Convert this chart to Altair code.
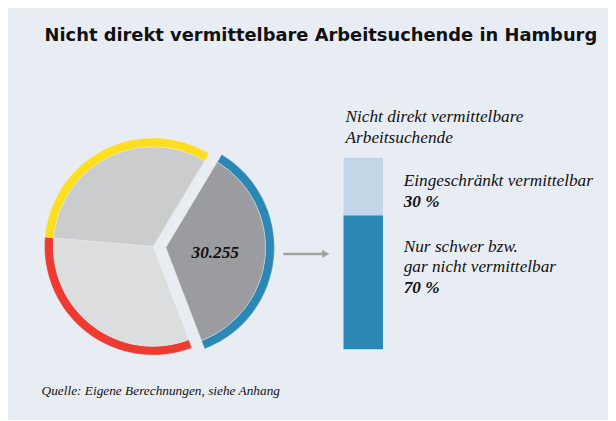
import math
import altair as alt
import pandas as pd

# ---------------- data ----------------
pie_categories = ["Nicht direkt vermittelbar", "Gruppe rot", "Gruppe gelb"]
pie_values = [30255, 27400, 27400]
pie_order = [0, 1, 2]
pie_label = "30.255"

bar_categories = ["Nur schwer bzw. gar nicht vermittelbar", "Eingeschränkt vermittelbar"]
bar_values = [70, 30]
bar_order = [0, 1]

title_text = "Nicht direkt vermittelbare Arbeitsuchende in Hamburg"
bar_title = ["Nicht direkt vermittelbare", "Arbeitsuchende"]
label_top = ["Eingeschränkt vermittelbar", "30 %"]
label_bottom = ["Nur schwer bzw.", "gar nicht vermittelbar", "70 %"]
source_text = "Quelle: Eigene Berechnungen, siehe Anhang"

# ---------------- styles ----------------
BG = "#e8edf4"
ring_colors = ["#2b88b5", "#ee3b32", "#fedf1f"]
gray_colors = ["#9b9ca0", "#dcddde", "#cbcccd"]
bar_colors = ["#2b88b5", "#c3d6e7"]
SERIF = "Liberation Serif"
SANS = "DejaVu Sans"

pie_df = pd.DataFrame({"cat": pie_categories, "value": pie_values, "ord": pie_order})
bar_df = pd.DataFrame({"cat": bar_categories, "share": bar_values, "ord": bar_order})

start = math.radians(31)
theta = alt.Theta("value:Q", stack=True, scale=alt.Scale(range=[start, start + 2 * math.pi]))
order = alt.Order("ord:Q")

CX, CY = 147, 239
R_OUT, R_IN = 110, 101
EX, EY = 13, 1


def pie_layer(radius, radius2, colors, cx, cy, show_exploded):
    cond = alt.datum.ord == 0 if show_exploded else alt.datum.ord != 0
    enc = dict(
        theta=theta,
        order=order,
        color=alt.Color("cat:N", scale=alt.Scale(domain=pie_categories, range=colors), legend=None),
        opacity=alt.condition(cond, alt.value(1), alt.value(0)),
        x=alt.value(cx),
        y=alt.value(cy),
    )
    m = dict(radius=radius)
    if radius2 is not None:
        m["radius2"] = radius2
    return alt.Chart(pie_df).mark_arc(**m, stroke="#ececec", strokeWidth=0.4).encode(**enc)


pie_layers = [
    pie_layer(R_OUT, R_IN, ring_colors, CX, CY, False),
    pie_layer(R_IN, None, gray_colors, CX, CY, False),
    pie_layer(R_OUT, R_IN, ring_colors, CX + EX, CY + EY, True),
    pie_layer(R_IN, None, gray_colors, CX + EX, CY + EY, True),
]

bar = alt.Chart(bar_df).transform_window(
    end="sum(share)", sort=[alt.SortField("ord")], frame=[None, 0]
).transform_calculate(
    begin="datum.end - datum.share"
).mark_bar().encode(
    x=alt.value(340),
    x2=alt.value(380),
    y=alt.Y("begin:Q", scale=alt.Scale(domain=[0, 100], range=[343, 149]), axis=None),
    y2="end:Q",
    color=alt.Color("cat:N", scale=alt.Scale(domain=bar_categories, range=bar_colors), legend=None),
)


def txt(t, x, y, size, font=SERIF, style="italic", weight="normal", align="left"):
    return alt.Chart(pd.DataFrame({"t": [t]})).mark_text(
        font=font, fontSize=size, fontStyle=style, fontWeight=weight,
        align=align, baseline="alphabetic", color="#111111",
    ).encode(x=alt.value(x), y=alt.value(y), text="t:N")


FS = 17.5
texts = [
    txt(title_text, 37, 31, 18.1, font=SANS, style="normal", weight="bold"),
    txt(bar_title[0], 342, 113, FS),
    txt(bar_title[1], 342, 134, FS),
    txt(label_top[0], 401, 178, FS),
    txt(label_top[1], 401, 199, FS, weight="bold"),
    txt(label_bottom[0], 401, 244, FS),
    txt(label_bottom[1], 401, 265, FS),
    txt(label_bottom[2], 401, 286, FS, weight="bold"),
    txt(pie_label, 210, 251, 17.5, weight="bold", align="center"),
    txt(source_text, 34, 389, 13.5),
]

arrow_line = alt.Chart(pd.DataFrame({"a": [0]})).mark_rule(color="#a3a3a3", strokeWidth=2.5).encode(
    x=alt.value(279), x2=alt.value(321), y=alt.value(246.5)
)
arrow_head = alt.Chart(pd.DataFrame({"a": [0]})).mark_point(
    shape="triangle-right", filled=True, color="#a3a3a3", opacity=1, size=70
).encode(x=alt.value(322), y=alt.value(246.5))

chart = alt.layer(*pie_layers, bar, arrow_line, arrow_head, *texts).resolve_scale(
    color="independent"
).properties(
    width=608, height=412, padding=0, autosize=alt.AutoSizeParams(type="none"), background=BG
).configure_view(stroke=None)

chart.save("out.html", embed_options={"renderer": "svg", "actions": False})
